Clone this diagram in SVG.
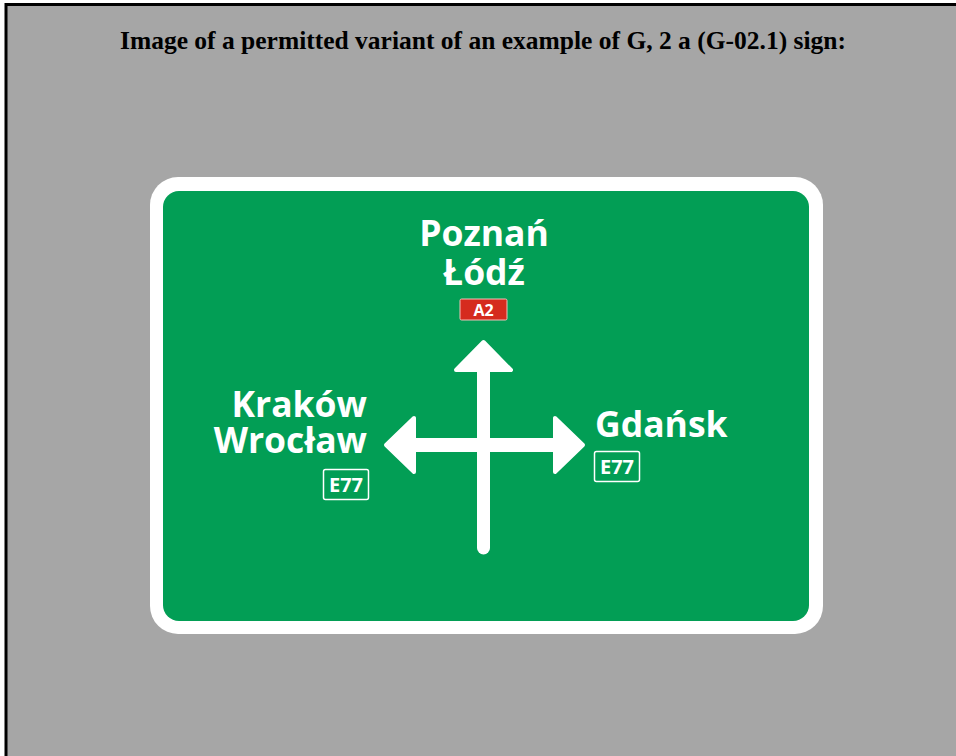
<svg xmlns="http://www.w3.org/2000/svg" width="956" height="756" viewBox="0 0 956 756">
<style>
.title{font-family:"Liberation Serif","Times New Roman",serif;font-weight:bold;font-size:25.5px;fill:#000}
.city{font-family:"Open Sans","Noto Sans",sans-serif;font-weight:bold;font-size:35.5px;fill:#fff}
.num{font-family:"Open Sans","Noto Sans",sans-serif;font-weight:bold;fill:#fff}
.arr{fill:#fff;stroke:#fff;stroke-width:4;stroke-linejoin:round}
.box{fill:none;stroke:#fff;stroke-width:1.5}
</style>
<rect x="0" y="0" width="956" height="756" fill="#fff"/>
<rect x="6" y="4.5" width="960" height="770" fill="#a6a6a6" stroke="#000" stroke-width="3"/>
<text class="title" x="483" y="49" text-anchor="middle">Image of a permitted variant of an example of G, 2 a (G-02.1) sign:</text>
<g id="sign">
<rect x="150" y="177" width="673" height="457" rx="28" fill="#fff"/>
<rect x="163" y="191" width="646" height="430" rx="16" fill="#029e55"/>
</g>
<g id="connectors">
<line x1="483.5" y1="365" x2="483.5" y2="548" stroke="#fff" stroke-width="13" stroke-linecap="round"/>
<line x1="410" y1="445" x2="560" y2="445" stroke="#fff" stroke-width="14"/>
<polygon class="arr" points="483.5,342 511,370 456,370"/>
<polygon class="arr" points="386,445 414,418 414,472"/>
<polygon class="arr" points="583,445 555,418 555,472"/>
</g>
<g id="north">
<text class="city" text-anchor="middle"><tspan x="484" y="246">Poznań</tspan><tspan x="484" y="285">Łódź</tspan></text>
<rect x="460" y="299" width="47" height="21" rx="1.5" fill="#d52b1e" stroke="#f2c0bb" stroke-width="1"/>
<text class="num" x="483.5" y="316" font-size="16" text-anchor="middle">A2</text>
</g>
<g id="west">
<text class="city" text-anchor="end"><tspan x="367" y="417">Kraków</tspan><tspan x="367" y="453">Wrocław</tspan></text>
<rect class="box" x="323.5" y="469.5" width="45" height="30" rx="2"/>
<text class="num" x="346" y="492" font-size="20" text-anchor="middle">E77</text>
</g>
<g id="east">
<text class="city" x="595" y="437">Gdańsk</text>
<rect class="box" x="594.5" y="451.5" width="45" height="30" rx="2"/>
<text class="num" x="617" y="474" font-size="20" text-anchor="middle">E77</text>
</g>
</svg>
